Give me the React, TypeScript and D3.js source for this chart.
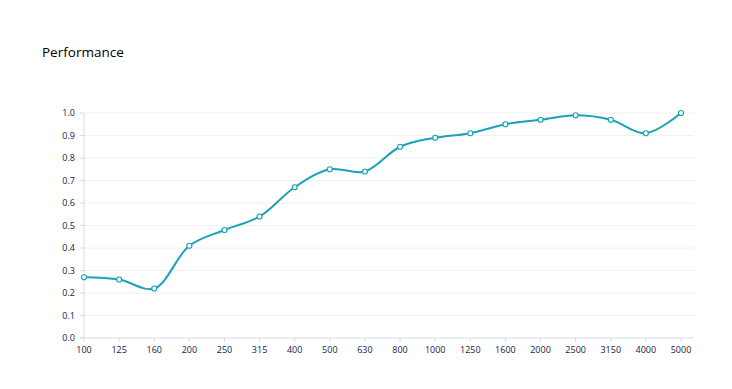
import React from "react";
import * as d3 from "d3";

const categories = ["100","125","160","200","250","315","400","500","630","800","1000","1250","1600","2000","2500","3150","4000","5000"];
const values = [0.27,0.26,0.22,0.41,0.48,0.54,0.67,0.75,0.74,0.85,0.89,0.91,0.95,0.97,0.99,0.97,0.91,1.0];
const yTicks = [0,0.1,0.2,0.3,0.4,0.5,0.6,0.7,0.8,0.9,1.0];
const title = "Performance";

export default function App() {
  const W = 732, H = 389;
  const left = 84, right = 694, top = 113, bottom = 338;
  const x = d3.scalePoint<string>().domain(categories).range([left, 681]);
  const y = d3.scaleLinear().domain([0, 1]).range([bottom, top]);
  const line = d3.line<number>()
    .x((_, i) => x(categories[i])!)
    .y(d => y(d))
    .curve(d3.curveCatmullRom.alpha(0.5));
  const font = "'Open Sans', 'DejaVu Sans', sans-serif";
  const textColor = "#14223f";
  const teal = "#1aa3b5";
  return (
    <svg width={W} height={H} style={{ position: "absolute", left: 0, top: 0 }}>
      <rect width={W} height={H} fill="#fff" />
      <text x={42} y={57} fontFamily={font} fontSize={13.5} fill="#000">{title}</text>
      {yTicks.map(t => (
        <g key={t}>
          {t > 0 && <line x1={left} x2={right} y1={y(t)} y2={y(t)} stroke="#f0f0f0" strokeWidth={1} />}
          <line x1={left - 4} x2={left} y1={y(t)} y2={y(t)} stroke="#d8dde3" />
          <text x={left - 9} y={y(t)} dy="0.35em" textAnchor="end" fontFamily={font} fontSize={9} fill={textColor}>{t.toFixed(1)}</text>
        </g>
      ))}
      <line x1={left} x2={left} y1={top} y2={bottom} stroke="#d8dde3" />
      <line x1={left - 4} x2={right} y1={bottom} y2={bottom} stroke="#d8dde3" />
      {categories.map(c => (
        <g key={c}>
          <line x1={x(c)!} x2={x(c)!} y1={bottom} y2={bottom + 4} stroke="#d8dde3" />
          <text x={x(c)!} y={bottom + 15} textAnchor="middle" fontFamily={font} fontSize={9} fill={textColor}>{c}</text>
        </g>
      ))}
      <path d={line(values) || ""} fill="none" stroke={teal} strokeWidth={2} />
      {values.map((v, i) => (
        <circle key={i} cx={x(categories[i])!} cy={y(v)} r={2.5} fill="#fff" stroke={teal} strokeWidth={1.2} />
      ))}
    </svg>
  );
}
